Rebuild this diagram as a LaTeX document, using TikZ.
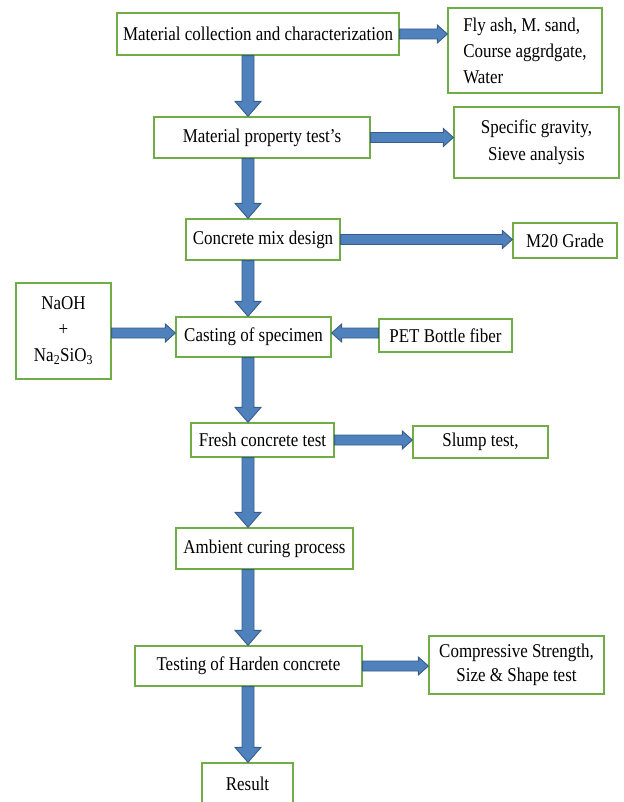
\documentclass[tikz,border=0pt]{standalone}
\usepackage{fontspec}
\setmainfont{Liberation Serif}[FakeStretch=0.87]
\usetikzlibrary{calc}
\definecolor{boxgreen}{RGB}{112,173,71}
\definecolor{arrowblue}{RGB}{79,129,189}
\definecolor{arrowdark}{RGB}{56,93,138}
\newcommand{\downarrowblk}[2]{\draw[barrow] let \p1=(#1), \p2=(#2) in (\x1-6pt,\y1) -- (\x1+6pt,\y1) -- (\x1+6pt,\y2+15pt) -- (\x1+13pt,\y2+15pt) -- (\x1,\y2) -- (\x1-13pt,\y2+15pt) -- (\x1-6pt,\y2+15pt) -- cycle;}
\newcommand{\rightarrowblk}[2]{\draw[barrow] let \p1=(#1), \p2=(#2) in (\x1,\y1+5pt) -- (\x2-10pt,\y1+5pt) -- (\x2-10pt,\y1+9pt) -- (\x2,\y1) -- (\x2-10pt,\y1-9pt) -- (\x2-10pt,\y1-5pt) -- (\x1,\y1-5pt) -- cycle;}
\newcommand{\leftarrowblk}[2]{\draw[barrow] let \p1=(#1), \p2=(#2) in (\x1,\y1+5pt) -- (\x2+10pt,\y1+5pt) -- (\x2+10pt,\y1+9pt) -- (\x2,\y1) -- (\x2+10pt,\y1-9pt) -- (\x2+10pt,\y1-5pt) -- (\x1,\y1-5pt) -- cycle;}
\tikzset{
  box/.style={draw=boxgreen, line width=1.3pt, fill=white, inner sep=0pt, align=center, font=\fontsize{19.5}{26}\selectfont},
  barrow/.style={fill=arrowblue, draw=arrowdark, line width=0.9pt, line join=miter}
}
\begin{document}
\begin{tikzpicture}[x=1pt,y=-1pt]
\useasboundingbox (0,0) rectangle (623,802);
\clip (0,0) rectangle (623,802);
\coordinate (col) at (248,0);
\coordinate (yc) at (0,333);
% main column
\node[box, minimum width=282pt, minimum height=42pt] (b1) at (258,34) {Material collection and characterization};
\node[box, minimum width=216pt, minimum height=41pt] (b2) at (262,137.5) {Material property test’s};
\node[box, minimum width=154pt, minimum height=41pt] (b3) at (263,239.5) {Concrete mix design};
\node[box, minimum width=155pt, minimum height=40pt] (cast) at (253.5,337) {Casting of specimen};
\node[box, minimum width=143pt, minimum height=34pt] (fresh) at (262.5,440) {Fresh concrete test};
\node[box, minimum width=177pt, minimum height=41pt] (amb) at (264.5,548.5) {Ambient curing process};
\node[box, minimum width=227pt, minimum height=40pt] (test) at (248.5,666) {Testing of Harden concrete};
\node[box, minimum width=91pt, minimum height=42pt] (res) at (247.5,784) {Result};
% side boxes
\node[box, align=left, minimum width=154pt, minimum height=85pt] (fly) at (525,50.5) {Fly ash, M. sand,\\Course aggrdgate,\\Water};
\node[box, minimum width=165pt, minimum height=71pt, font=\fontsize{19.5}{27}\selectfont] (spec) at (536.5,142.5) {Specific gravity,\\Sieve analysis};
\node[box, minimum width=104pt, minimum height=35pt] (m20) at (565,240.5) {M20 Grade};
\node[box, minimum width=95pt, minimum height=96pt] (naoh) at (63.5,331) {NaOH\\+\\Na\textsubscript{2}SiO\textsubscript{3}};
\node[box, minimum width=133pt, minimum height=33pt] (pet) at (445.5,335.5) {PET Bottle fiber};
\node[box, minimum width=135pt, minimum height=32pt] (slump) at (480.5,442) {Slump test,};
\node[box, minimum width=175pt, minimum height=58pt, font=\fontsize{19.5}{24}\selectfont] (comp) at (516.5,665) {Compressive Strength,\\Size \& Shape test};
% vertical arrows
\downarrowblk{b1.south -| col}{b2.north -| col}
\downarrowblk{b2.south -| col}{b3.north -| col}
\downarrowblk{b3.south -| col}{cast.north -| col}
\downarrowblk{cast.south -| col}{fresh.north -| col}
\downarrowblk{fresh.south -| col}{amb.north -| col}
\downarrowblk{amb.south -| col}{test.north -| col}
\downarrowblk{test.south -| col}{res.north -| col}
% horizontal arrows
\rightarrowblk{b1.east}{fly.west |- b1.east}
\rightarrowblk{b2.east}{spec.west |- b2.east}
\rightarrowblk{b3.east}{m20.west |- b3.east}
\rightarrowblk{naoh.east |- yc}{cast.west |- yc}
\leftarrowblk{pet.west |- yc}{cast.east |- yc}
\rightarrowblk{fresh.east}{slump.west |- fresh.east}
\rightarrowblk{test.east}{comp.west |- test.east}
\end{tikzpicture}
\end{document}
